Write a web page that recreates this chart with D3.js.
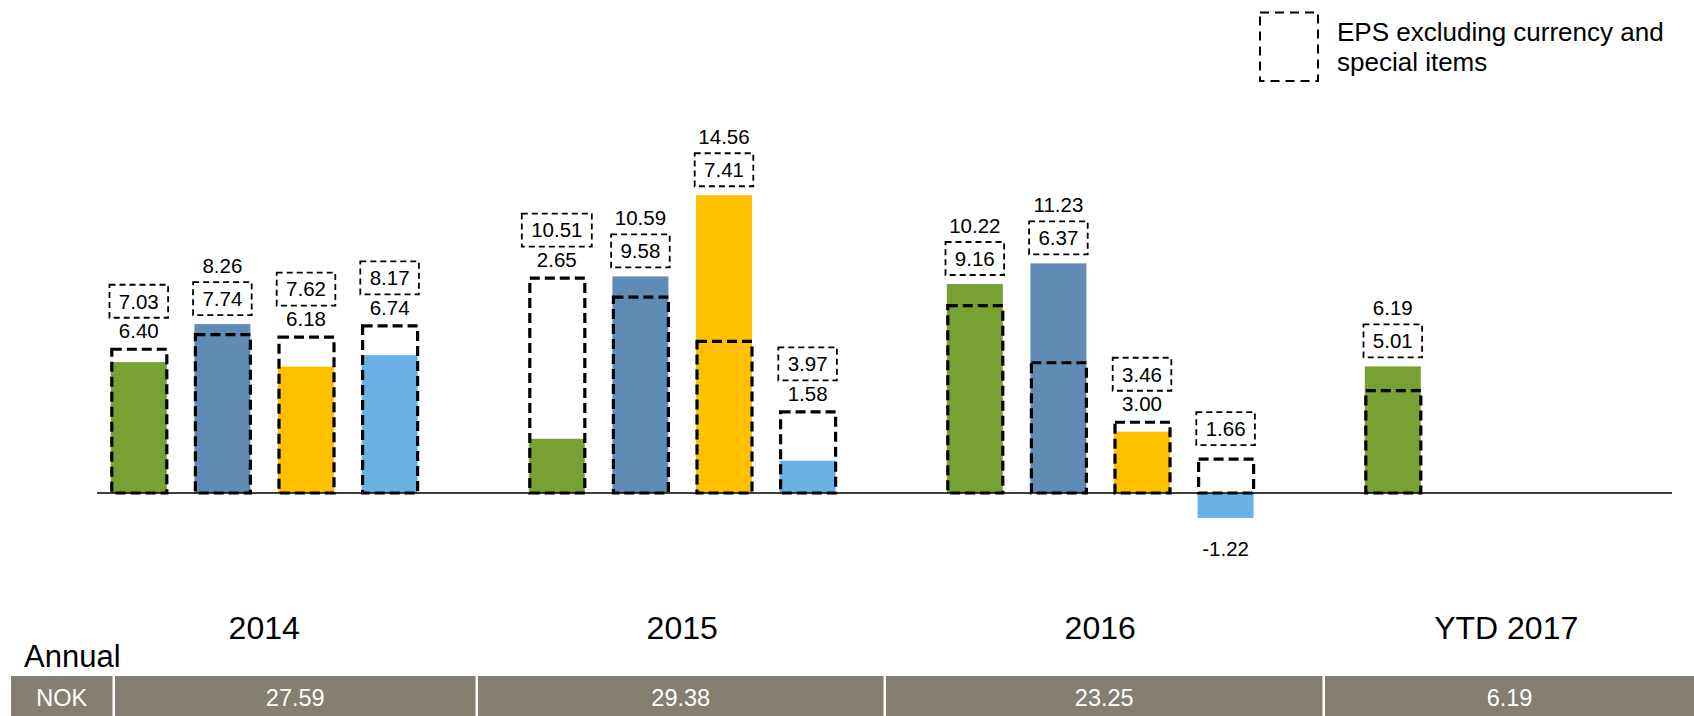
<!DOCTYPE html>
<html>
<head>
<meta charset="utf-8">
<script src="https://cdn.jsdelivr.net/npm/d3@7/dist/d3.min.js"></script>
<style>
  html, body { margin: 0; padding: 0; background: #fff; }
  svg { display: block; font-family: "Liberation Sans", Arial, sans-serif; }
</style>
</head>
<body>
<svg id="chart" width="1694" height="716"></svg>
<script>
// ---------- data ----------
const years = ["2014", "2015", "2016", "YTD 2017"];
const quarters = ["Q1", "Q2", "Q3", "Q4"];
const eps = [
  [6.40, 8.26, 6.18, 6.74],
  [2.65, 10.59, 14.56, 1.58],
  [10.22, 11.23, 3.00, -1.22],
  [6.19]
];
const epsAdjusted = [
  [7.03, 7.74, 7.62, 8.17],
  [10.51, 9.58, 7.41, 3.97],
  [9.16, 6.37, 3.46, 1.66],
  [5.01]
];
const annualEps = [27.59, 29.38, 23.25, 6.19];
const currencyLabel = "NOK";
const rowTitle = "Annual";
const legendLines = ["EPS excluding currency and", "special items"];
const quarterColors = ["#77a133", "#5f8bb5", "#ffc000", "#6ab2e5"];

// ---------- layout ----------
const svg = d3.select("#chart");
const W = 1694;
const slotsPerYear = 5;
const x = d3.scaleBand()
  .domain(d3.range(years.length * slotsPerYear))
  .range([97, 97 + years.length * slotsPerYear * 83.6])
  .paddingInner(0.33)
  .paddingOuter(0.165);
const y = d3.scaleLinear().domain([-2, 16]).range([493 + 2 * 20.45, 493 - 16 * 20.45]);

const rows = [];
years.forEach((yr, yi) => {
  eps[yi].forEach((v, qi) => {
    rows.push({ year: yr, yi, qi, q: quarters[qi], eps: v, adj: epsAdjusted[yi][qi], slot: yi * slotsPerYear + qi });
  });
});

const fmt = d3.formatLocale({ decimal: ".", thousands: ",", grouping: [3], currency: ["", ""], minus: "-" }).format(".2f");

// bars
svg.append("g").selectAll("rect").data(rows).join("rect")
  .attr("x", d => x(d.slot))
  .attr("width", x.bandwidth())
  .attr("y", d => Math.min(y(d.eps), y(0)))
  .attr("height", d => Math.abs(y(d.eps) - y(0)))
  .attr("fill", d => quarterColors[d.qi]);

// dashed adjusted boxes
svg.append("g").selectAll("rect").data(rows).join("rect")
  .attr("x", d => x(d.slot) + 1)
  .attr("width", x.bandwidth() - 1)
  .attr("y", d => y(d.adj))
  .attr("height", d => y(0) - y(d.adj))
  .attr("fill", "none")
  .attr("stroke", "#000")
  .attr("stroke-width", 3.2)
  .attr("stroke-dasharray", "10,5");

// baseline
svg.append("line")
  .attr("x1", 97).attr("x2", 1672)
  .attr("y1", y(0)).attr("y2", y(0))
  .attr("stroke", "#000").attr("stroke-width", 1.3);

// labels
const lab = svg.append("g").attr("font-size", 20.5).attr("fill", "#000").attr("text-anchor", "middle");
const boxH = 33;
function boxedLabel(cx, bottom, v) {
  const t = fmt(v);
  const w = t.length * 11.4 + 13;
  lab.append("rect")
    .attr("x", cx - w / 2).attr("y", bottom - boxH)
    .attr("width", w).attr("height", boxH)
    .attr("fill", "none").attr("stroke", "#000")
    .attr("stroke-width", 1.8).attr("stroke-dasharray", "6,4");
  lab.append("text").attr("x", cx).attr("y", bottom - boxH / 2 + 7.3).text(t);
}
function plainLabel(cx, baseline, v) {
  lab.append("text").attr("x", cx).attr("y", baseline).text(fmt(v));
}
rows.forEach(d => {
  const cx = x(d.slot) + x.bandwidth() / 2;
  if (d.eps < 0) {
    plainLabel(cx, y(d.eps) + 38, d.eps);
    boxedLabel(cx, y(d.adj) - 14, d.adj);
    return;
  }
  const top = Math.min(y(d.eps), y(d.adj));
  if (d.eps <= d.adj) {
    const base = top - 11;
    plainLabel(cx, base, d.eps);
    boxedLabel(cx, base - 20.5, d.adj);
  } else {
    const bottom = top - 9;
    boxedLabel(cx, bottom, d.adj);
    plainLabel(cx, bottom - boxH - 9, d.eps);
  }
});

// year labels
svg.append("g").selectAll("text").data(years).join("text")
  .attr("x", (d, i) => (x(i * slotsPerYear) + x(i * slotsPerYear + 3) + x.bandwidth()) / 2 - (i === years.length - 1 ? 12 : 0))
  .attr("y", 639)
  .attr("text-anchor", "middle")
  .attr("font-size", 32)
  .attr("fill", "#000")
  .text(d => d);

// Annual title
svg.append("text").attr("x", 24).attr("y", 667)
  .attr("font-size", 31).attr("fill", "#000").text(rowTitle);

// table row
const cellEdges = [11, 115, 478, 886, 1325, W];
const cells = [{ t: currencyLabel }].concat(annualEps.map(v => ({ t: fmt(v) })));
const tbl = svg.append("g");
cells.forEach((c, i) => {
  const x0 = cellEdges[i], x1 = (i < cells.length - 1) ? cellEdges[i + 1] - 2.5 : W;
  tbl.append("rect").attr("x", x0).attr("y", 676).attr("width", x1 - x0).attr("height", 40)
    .attr("fill", "#857f73");
  tbl.append("text").attr("x", (x0 + x1) / 2).attr("y", 705.5)
    .attr("text-anchor", "middle").attr("font-size", 23.5).attr("fill", "#fff").text(c.t);
});

// legend
const lg = svg.append("g");
lg.append("rect").attr("x", 1260).attr("y", 12.5).attr("width", 58).attr("height", 68.5)
  .attr("fill", "none").attr("stroke", "#000").attr("stroke-width", 2).attr("stroke-dasharray", "9,6");
lg.selectAll("text").data(legendLines).join("text")
  .attr("x", 1337).attr("y", (d, i) => 41 + i * 29.5)
  .attr("font-size", 26).attr("fill", "#000").text(d => d);
</script>
</body>
</html>
